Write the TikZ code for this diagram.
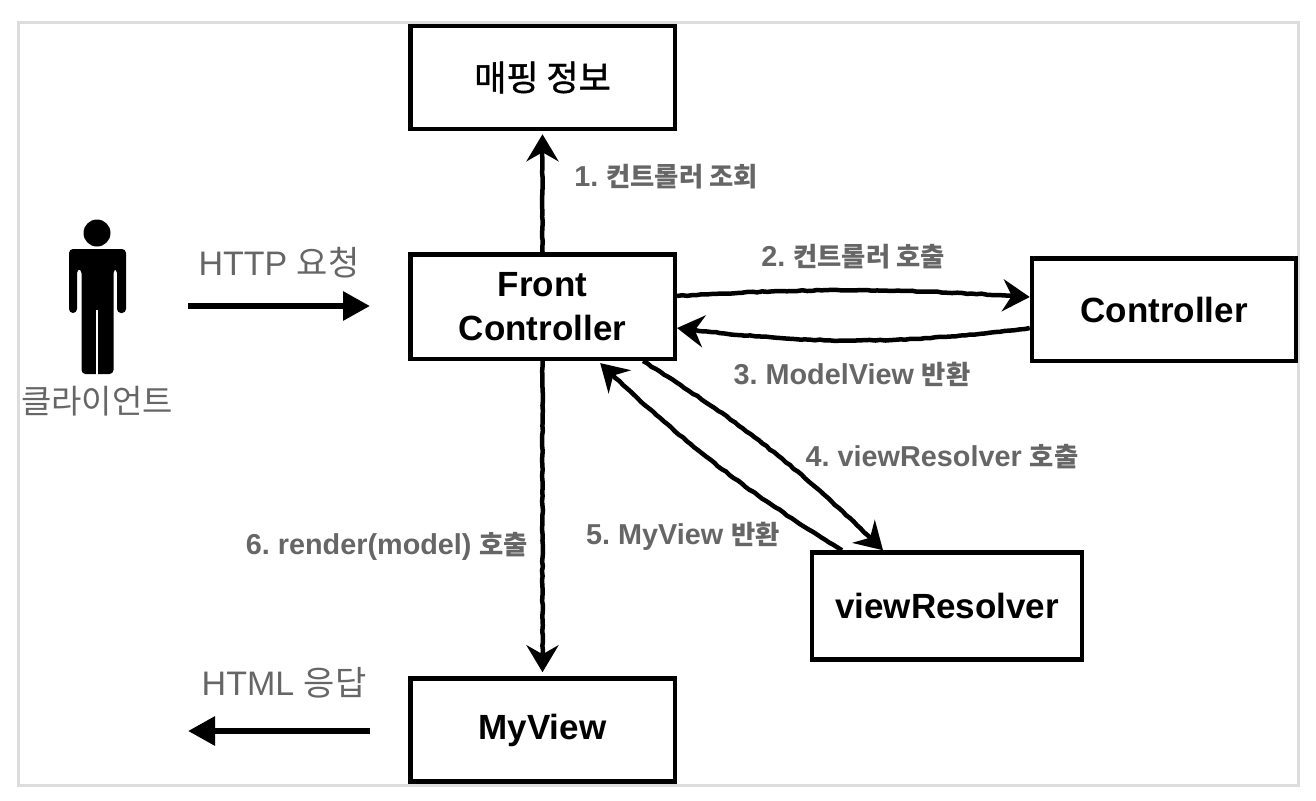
\documentclass[tikz,border=0pt]{standalone}
\usepackage{fontspec}
\setmainfont{Liberation Sans}
\newfontfamily\kr{Noto Sans CJK KR}
\newfontfamily\krstep[Scale=0.915]{Noto Sans CJK KR}
\newfontfamily\krmid[FakeBold=1.2]{Noto Sans CJK KR}
\usetikzlibrary{arrows.meta,decorations.pathmorphing}
\frenchspacing

\definecolor{labelgray}{HTML}{666666}
\definecolor{framegray}{HTML}{DDDDDD}

\tikzset{
  mainbox/.style={draw=black, line width=4.5pt, fill=white, align=center, font=\fontsize{35}{44}\selectfont\bfseries},
  steplabel/.style={text=labelgray, font=\fontsize{28.8}{32}\selectfont\bfseries, inner sep=0pt},
  httplabel/.style={text=labelgray, font=\fontsize{34}{40}\selectfont, inner sep=0pt},
  callline/.style={line width=4.5pt, -{Stealth[length=27pt,width=32pt,inset=9pt]},
    decorate, decoration={random steps, segment length=5pt, amplitude=.5pt, post=lineto, post length=8pt}},
  httpline/.style={line width=6pt, -{Triangle[length=27pt,width=28pt]}}
}

\begin{document}
\begin{tikzpicture}[x=1pt,y=-1pt]
  \useasboundingbox (0,0) rectangle (1316,800);
  \draw[framegray, line width=3pt] (18,23) rectangle (1298,785);

  % boxes
  \node[mainbox, minimum width=264.5pt, minimum height=103pt] (mapping) at (542.5,77.5) {\krmid\mdseries 매핑 정보};
  \node[mainbox, minimum width=264.5pt, minimum height=104.5pt] (front) at (542.5,306.5) {Front\\Controller};
  \node[mainbox, minimum width=264pt, minimum height=102.5pt] (controller) at (1164,309.5) {Controller};
  \node[mainbox, minimum width=270pt, minimum height=107pt] (resolver) at (947,606) {viewResolver};
  \node[mainbox, minimum width=264.5pt, minimum height=103pt] (myview) at (542.5,730) {MyView};

  % client
  \fill (97,233) circle (13.5pt);
  \fill[rounded corners=4pt] (69,249) -- (126,249) -- (126,313) -- (117,313) -- (117,269) -- (113.5,269)
    -- (113.5,374) -- (81.5,374) -- (81.5,269) -- (77,269) -- (77,313) -- (69,313) -- cycle;
  \draw[white, line width=1.5pt] (97,310) -- (97,376);
  \node[httplabel, font=\fontsize{33}{38}\selectfont\kr] (client) at (97,401) {클라이언트};

  % http
  \coordinate (reqstart) at (188,306);
  \coordinate (respend) at (188,731);
  \draw[httpline, shorten >=38pt] (reqstart) -- (front.west |- reqstart);
  \draw[httpline, shorten <=38pt] (myview.west |- respend) -- (respend);
  \node[httplabel] (reqlabel) at (279,263) {HTTP {\kr 요청}};
  \node[httplabel] (resplabel) at (284,683) {HTML {\kr 응답}};

  % calls
  \draw[callline, shorten >=3pt] (front.north) -- (mapping.south);
  \draw[callline] ([yshift=10.5pt]front.east) to[bend left=3.5] ([yshift=12.5pt]controller.west);
  \draw[callline] ([yshift=-18.5pt]controller.west) to[bend left=7] ([yshift=-21.5pt]front.east);
  \draw[callline] ([xshift=100.5pt]front.south) to[bend left=6] ([xshift=-64pt]resolver.north);
  \draw[callline, shorten >=3pt] ([xshift=-105pt]resolver.north) to[bend left=6] ([xshift=55.5pt]front.south);
  \draw[callline, shorten >=4pt] (front.south) -- (myview.north);

  % call labels
  \node[steplabel] (call1) at (666,177) {1. {\krstep 컨트롤러 조회}};
  \node[steplabel] (call2) at (853,257) {2. {\krstep 컨트롤러 호출}};
  \node[steplabel] (call3) at (852,374) {3. ModelView {\krstep 반환}};
  \node[steplabel] (call4) at (942,457) {4. viewResolver {\krstep 호출}};
  \node[steplabel] (call5) at (683,536) {5. MyView {\krstep 반환}};
  \node[steplabel] (call6) at (387,546) {6. render(model) {\krstep 호출}};
\end{tikzpicture}
\end{document}
